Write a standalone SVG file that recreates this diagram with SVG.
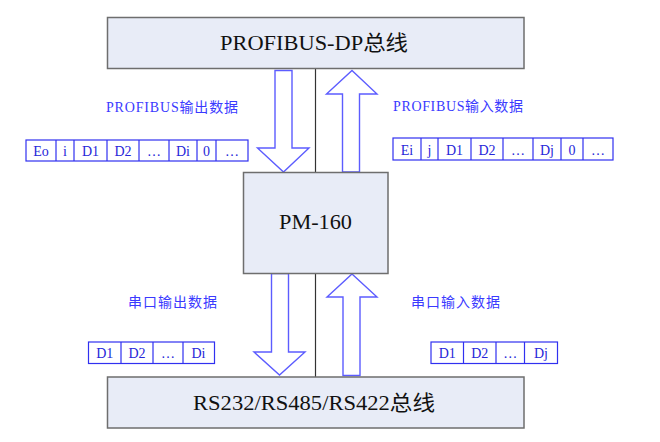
<svg xmlns="http://www.w3.org/2000/svg" width="660" height="442" viewBox="0 0 660 442">
<style>
.box{fill:#e8ecf7;stroke:#6e6e6e;stroke-width:1.5}
.big{font-family:"Liberation Serif","Noto Sans CJK SC",serif;font-size:21px;fill:#111}
.arrow{fill:#fff;stroke:#5c5cff;stroke-width:1.4}
.link{stroke:#333;stroke-width:1.2;fill:none}
.cell{fill:#fff;stroke:#3030f0;stroke-width:1.2}
.ct{font-family:"Liberation Serif",serif;font-size:14px;fill:#2626d9;text-anchor:middle}
.lbl{font-family:"Liberation Serif","Noto Sans CJK SC",serif;font-size:14px;fill:#3a3aff}
</style>
<rect width="660" height="442" fill="#fff"/>
<g id="connectors">
<line class="link" x1="315.5" y1="69" x2="315.5" y2="172"/>
<line class="link" x1="315.5" y1="273" x2="315.5" y2="377"/>
<polygon class="arrow" points="275,70.5 292,70.5 292,148 309,148 283.5,172 257.5,148 275,148"/>
<polygon class="arrow" points="352,70.5 377,94 359.5,94 359.5,172 342.5,172 342.5,94 326.5,94"/>
<polygon class="arrow" points="271.5,273.5 288.5,273.5 288.5,352 305,352 279.5,375 254,352 271.5,352"/>
<polygon class="arrow" points="352,274 377,297 360,297 360,375.5 343,375.5 343,297 327,297"/>
</g>
<g id="profibus">
<rect class="box" x="107.5" y="17.5" width="416.5" height="51"/>
<text class="big" x="220" y="50" textLength="188" lengthAdjust="spacingAndGlyphs">PROFIBUS-DP总线</text>
</g>
<g id="pm160">
<rect class="box" x="243.5" y="172.5" width="144.5" height="101"/>
<text class="big" x="279" y="229" textLength="73" lengthAdjust="spacingAndGlyphs">PM-160</text>
</g>
<g id="rs">
<rect class="box" x="107.5" y="377" width="416.5" height="51"/>
<text class="big" x="193" y="410" textLength="242" lengthAdjust="spacingAndGlyphs">RS232/RS485/RS422总线</text>
</g>
<g id="profibus-out">
<text class="lbl" x="106" y="112" textLength="132" lengthAdjust="spacing">PROFIBUS输出数据</text>
<rect class="cell" x="26" y="140" width="222" height="21"/>
<path class="cell" d="M56 140V161M74 140V161M107 140V161M139 140V161M169 140V161M197 140V161M216 140V161" fill="none"/>
<text class="ct" x="41" y="156">Eo</text>
<text class="ct" x="65" y="156">i</text>
<text class="ct" x="90.5" y="156">D1</text>
<text class="ct" x="123" y="156">D2</text>
<text class="ct" x="154" y="156">…</text>
<text class="ct" x="183" y="156">Di</text>
<text class="ct" x="206.5" y="156">0</text>
<text class="ct" x="232" y="156">…</text>
</g>
<g id="profibus-in">
<text class="lbl" x="393" y="111" textLength="130" lengthAdjust="spacing">PROFIBUS输入数据</text>
<rect class="cell" x="393" y="138" width="220" height="22"/>
<path class="cell" d="M421 138V160M438 138V160M471 138V160M503 138V160M533 138V160M561 138V160M583 138V160" fill="none"/>
<text class="ct" x="407" y="154.5">Ei</text>
<text class="ct" x="429.5" y="154.5">j</text>
<text class="ct" x="454.5" y="154.5">D1</text>
<text class="ct" x="487" y="154.5">D2</text>
<text class="ct" x="518" y="154.5">…</text>
<text class="ct" x="547" y="154.5">Dj</text>
<text class="ct" x="572" y="154.5">0</text>
<text class="ct" x="598" y="154.5">…</text>
</g>
<g id="serial-out">
<text class="lbl" x="128" y="307" textLength="89" lengthAdjust="spacing">串口输出数据</text>
<rect class="cell" x="88.5" y="342" width="126" height="21.5"/>
<path class="cell" d="M121 342V363.5M153 342V363.5M183 342V363.5" fill="none"/>
<text class="ct" x="104.75" y="358">D1</text>
<text class="ct" x="137" y="358">D2</text>
<text class="ct" x="168" y="358">…</text>
<text class="ct" x="198.5" y="358">Di</text>
</g>
<g id="serial-in">
<text class="lbl" x="411" y="307" textLength="89" lengthAdjust="spacing">串口输入数据</text>
<rect class="cell" x="431" y="342" width="126.5" height="21.5"/>
<path class="cell" d="M463.5 342V363.5M496 342V363.5M524.5 342V363.5" fill="none"/>
<text class="ct" x="447.25" y="358">D1</text>
<text class="ct" x="479.75" y="358">D2</text>
<text class="ct" x="510.25" y="358">…</text>
<text class="ct" x="541" y="358">Dj</text>
</g>
</svg>
